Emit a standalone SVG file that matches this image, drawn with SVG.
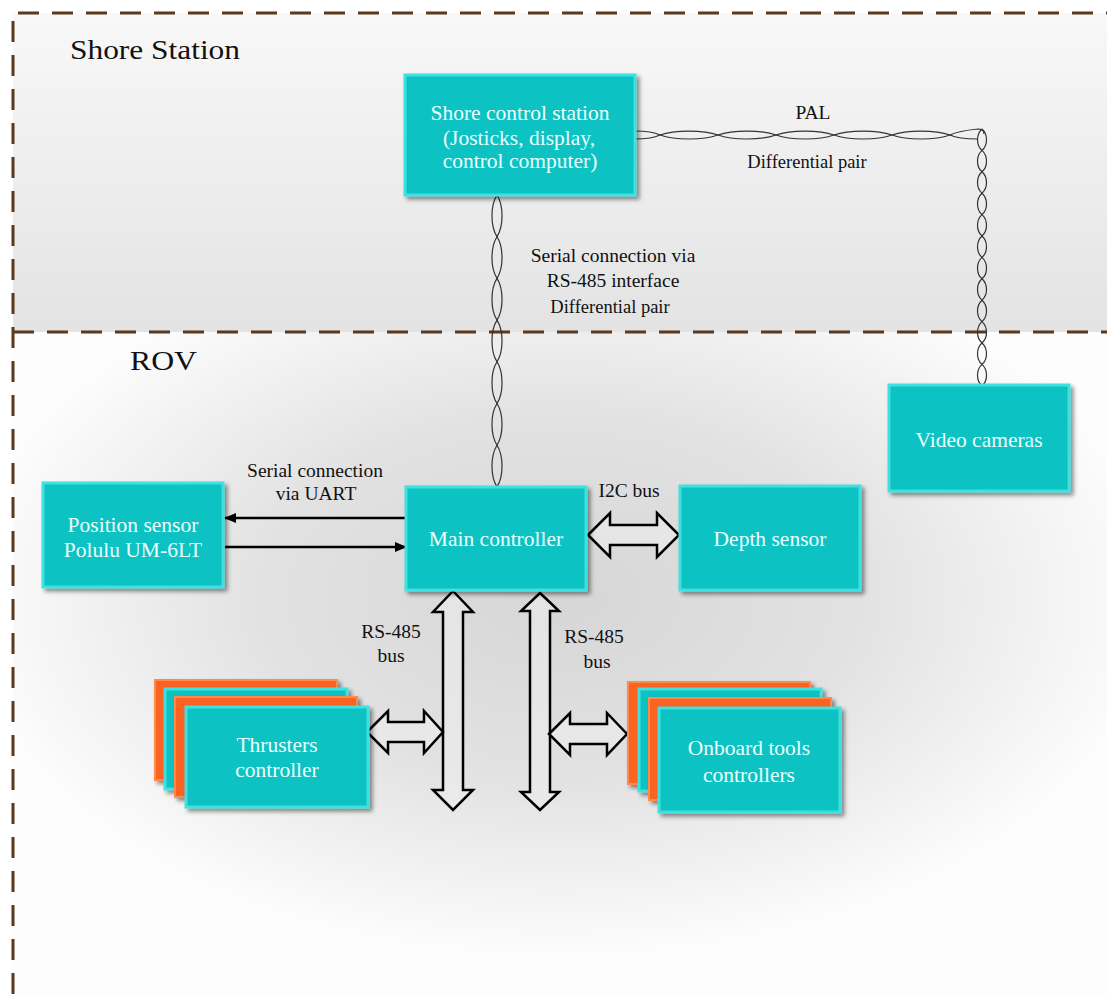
<svg xmlns="http://www.w3.org/2000/svg" width="1107" height="994" viewBox="0 0 1107 994">
  <defs>
    <linearGradient id="shoreBg" x1="0" y1="0" x2="0" y2="1">
      <stop offset="0" stop-color="#f8f8f8"/>
      <stop offset="1" stop-color="#e3e3e3"/>
    </linearGradient>
    <radialGradient id="rovBg" cx="0.5" cy="0.4" r="0.55">
      <stop offset="0" stop-color="#d6d6d6"/>
      <stop offset="0.5" stop-color="#e2e2e2"/>
      <stop offset="1" stop-color="#fdfdfd"/>
    </radialGradient>
    <filter id="shadow" x="-10%" y="-10%" width="125%" height="130%">
      <feDropShadow dx="3" dy="3" stdDeviation="2" flood-color="#000" flood-opacity="0.45"/>
    </filter>
    <marker id="arrowHead" viewBox="0 0 12 10" refX="11" refY="5" markerWidth="12" markerHeight="10" markerUnits="userSpaceOnUse" orient="auto">
      <path d="M0,0 L12,5 L0,10 Z" fill="#000"/>
    </marker>
    <style>
      .border { fill: none; stroke: #5a391c; stroke-width: 3; stroke-dasharray: 21 13; }
      .node { fill: #0bc2c2; stroke: #43dfdf; stroke-width: 3; filter: url(#shadow); }
      .back { fill: #fb6424; stroke: #ff8a4c; stroke-width: 2; filter: url(#shadow); }
      .ntext { font-family: "Liberation Serif", "Times New Roman", "DejaVu Serif", serif; font-size: 21.5px; fill: #eaffff; text-anchor: middle; }
      .label { font-family: "Liberation Serif", "Times New Roman", "DejaVu Serif", serif; font-size: 19.5px; fill: #111; text-anchor: middle; }
      .small { font-size: 18.5px; }
      .title { font-family: "Liberation Serif", "Times New Roman", "DejaVu Serif", serif; font-size: 28px; fill: #111; }
      .pair { fill: none; stroke: #333; stroke-width: 1.2; }
      .block { fill: #ececec; fill-opacity: 0.6; stroke: #000; stroke-width: 2.5; stroke-linejoin: miter; }
      .wire { stroke: #000; stroke-width: 2.5; marker-end: url(#arrowHead); }
    </style>
  </defs>

  <!-- background areas -->
  <rect x="0" y="0" width="1107" height="994" fill="#ffffff"/>
  <rect x="13" y="13" width="1094" height="319" fill="url(#shoreBg)"/>
  <rect x="13" y="332" width="1094" height="662" fill="url(#rovBg)"/>

  <!-- dashed region borders -->
  <g id="regions">
    <path class="border" d="M13,994 V13 H1107"/>
    <path class="border" d="M13,332 H1107" stroke-dasharray="24 10"/>
    <text class="title" x="70" y="59" textLength="170" lengthAdjust="spacingAndGlyphs">Shore Station</text>
    <text class="title" x="130" y="370" textLength="67" lengthAdjust="spacingAndGlyphs">ROV</text>
  </g>

  <!-- connectors -->
  <g id="connectors">
    <!-- RS-485 twisted pair: shore station to main controller -->
    <path class="pair" d="M497,195 c6.7,10.4 6.7,31.3 0,41.7 c-6.7,10.4 -6.7,31.3 0,41.7 c6.7,10.4 6.7,31.3 0,41.7 c-6.7,10.4 -6.7,31.3 0,41.7 c6.7,10.4 6.7,31.3 0,41.7 c-6.7,10.4 -6.7,31.3 0,41.7 c6.7,10.4 6.7,31.3 0,41.7"/>
    <path class="pair" d="M497,195 c-6.7,10.4 -6.7,31.3 0,41.7 c6.7,10.4 6.7,31.3 0,41.7 c-6.7,10.4 -6.7,31.3 0,41.7 c6.7,10.4 6.7,31.3 0,41.7 c-6.7,10.4 -6.7,31.3 0,41.7 c6.7,10.4 6.7,31.3 0,41.7 c-6.7,10.4 -6.7,31.3 0,41.7"/>

    <!-- PAL twisted pair: horizontal run -->
    <path class="pair" d="M635,131 C648,131 654,132 660,135 c14.5,5.3 43.5,5.3 58,0 c14.5,-5.3 43.5,-5.3 58,0 c14.5,5.3 43.5,5.3 58,0 c14.5,-5.3 43.5,-5.3 58,0 c14.5,5.3 43.5,5.3 58,0 C956,132 968,130 978,129 C982,129 984,131 984,134"/>
    <path class="pair" d="M635,139 C648,139 654,138 660,135 c14.5,-5.3 43.5,-5.3 58,0 c14.5,5.3 43.5,5.3 58,0 c14.5,-5.3 43.5,-5.3 58,0 c14.5,5.3 43.5,5.3 58,0 c14.5,-5.3 43.5,-5.3 58,0 C956,138 968,139 978,139"/>
    <!-- PAL twisted pair: vertical drop to cameras -->
    <path class="pair" d="M982,129 c6,5.4 6,16.1 0,21.4 c-6,5.4 -6,16.1 0,21.4 c6,5.4 6,16.1 0,21.4 c-6,5.4 -6,16.1 0,21.4 c6,5.4 6,16.1 0,21.4 c-6,5.4 -6,16.1 0,21.4 c6,5.4 6,16.1 0,21.4 c-6,5.4 -6,16.1 0,21.4 c6,5.4 6,16.1 0,21.4 c-6,5.4 -6,16.1 0,21.4 c6,5.4 6,16.1 0,21.4 c-6,5.4 -6,16.1 0,21.4"/>
    <path class="pair" d="M982,129 c-6,5.4 -6,16.1 0,21.4 c6,5.4 6,16.1 0,21.4 c-6,5.4 -6,16.1 0,21.4 c6,5.4 6,16.1 0,21.4 c-6,5.4 -6,16.1 0,21.4 c6,5.4 6,16.1 0,21.4 c-6,5.4 -6,16.1 0,21.4 c6,5.4 6,16.1 0,21.4 c-6,5.4 -6,16.1 0,21.4 c6,5.4 6,16.1 0,21.4 c-6,5.4 -6,16.1 0,21.4 c6,5.4 6,16.1 0,21.4"/>

    <!-- UART lines -->
    <line class="wire" x1="406" y1="518" x2="225" y2="518"/>
    <line class="wire" x1="225" y1="547" x2="406" y2="547"/>

    <!-- I2C bus -->
    <polygon class="block" points="588,535 610,513 610,525 657,525 657,513 679,535 657,557 657,545 610,545 610,557"/>

    <!-- RS-485 buses -->
    <polygon class="block" points="453,591 473,612 463,612 463,790 473,790 453,810 433,790 443,790 443,612 433,612"/>
    <polygon class="block" points="540,593 559,611 550,611 550,792 559,792 540,810 521,792 530,792 530,611 521,611"/>
    <polygon class="block" points="367,732 388,711 388,722 424,722 424,711 443,732 424,753 424,742 388,742 388,753"/>
    <polygon class="block" points="549,734 570,713 570,724 607,724 607,713 627,734 607,755 607,744 570,744 570,755"/>

    <!-- connector labels -->
    <text class="label" x="813" y="119">PAL</text>
    <text class="label small" x="807" y="168">Differential pair</text>
    <text class="label" x="613" y="262">Serial connection via</text>
    <text class="label" x="613" y="287">RS-485  interface</text>
    <text class="label small" x="610" y="313">Differential pair</text>
    <text class="label" x="315" y="477">Serial connection</text>
    <text class="label" x="316" y="500">via UART</text>
    <text class="label" x="629" y="497">I2C bus</text>
    <text class="label" x="391" y="638">RS-485</text>
    <text class="label" x="391" y="662">bus</text>
    <text class="label" x="594" y="643">RS-485</text>
    <text class="label" x="597" y="668">bus</text>
  </g>

  <!-- nodes -->
  <g id="shore-control">
    <rect class="node" x="405" y="75" width="230" height="120"/>
    <text class="ntext" x="520" y="120">Shore control station</text>
    <text class="ntext" x="519" y="145">(Josticks, display,</text>
    <text class="ntext" x="520" y="168">control computer)</text>
  </g>

  <g id="video-cameras">
    <rect class="node" x="889" y="385" width="180" height="106"/>
    <text class="ntext" x="979" y="447">Video cameras</text>
  </g>

  <g id="position-sensor">
    <rect class="node" x="43" y="483" width="180" height="104"/>
    <text class="ntext" x="133" y="532">Position sensor</text>
    <text class="ntext" x="133" y="557">Polulu UM-6LT</text>
  </g>

  <g id="main-controller">
    <rect class="node" x="406" y="487" width="180" height="103"/>
    <text class="ntext" x="496" y="546">Main controller</text>
  </g>

  <g id="depth-sensor">
    <rect class="node" x="680" y="486" width="180" height="104"/>
    <text class="ntext" x="770" y="546">Depth sensor</text>
  </g>

  <g id="thrusters-controller">
    <rect class="back" x="155" y="680" width="182" height="100"/>
    <rect class="node" x="165" y="689" width="182" height="100"/>
    <rect class="back" x="175" y="697" width="182" height="100"/>
    <rect class="node" x="186" y="707" width="182" height="100"/>
    <text class="ntext" x="277" y="752">Thrusters</text>
    <text class="ntext" x="277" y="777">controller</text>
  </g>

  <g id="onboard-tools">
    <rect class="back" x="628" y="682" width="182" height="102"/>
    <rect class="node" x="639" y="689" width="182" height="102"/>
    <rect class="back" x="649" y="698" width="182" height="102"/>
    <rect class="node" x="659" y="708" width="181" height="104"/>
    <text class="ntext" x="749" y="755">Onboard tools</text>
    <text class="ntext" x="749" y="782">controllers</text>
  </g>
</svg>
